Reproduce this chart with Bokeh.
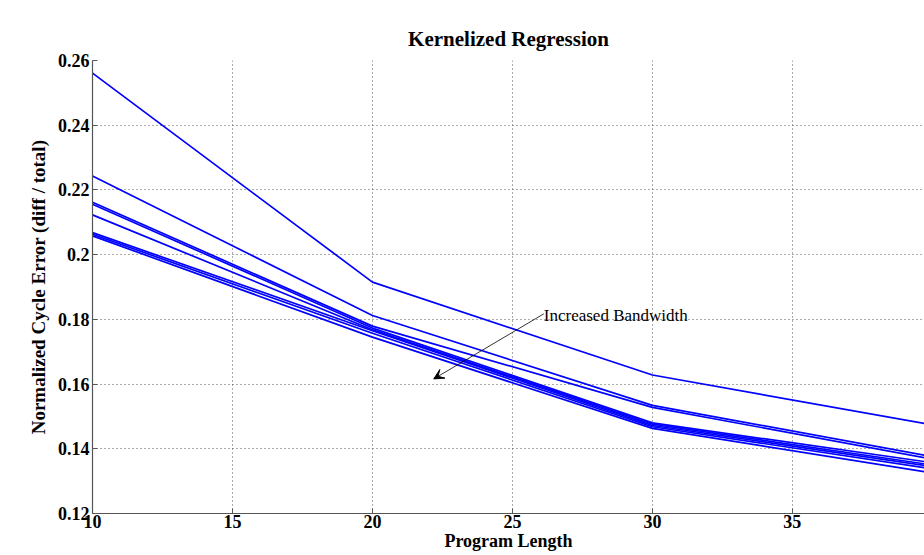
from bokeh.plotting import figure
from bokeh.models import FixedTicker, Arrow, VeeHead, Label, Range1d
from bokeh.embed import file_html
from bokeh.resources import INLINE

program_length = [10, 20, 30, 40]
bw_1 = [0.2561, 0.1915, 0.1628, 0.1474]
bw_2 = [0.2243, 0.1812, 0.1534, 0.1376]
bw_3 = [0.2162, 0.1779, 0.1528, 0.1368]
bw_4 = [0.2156, 0.1773, 0.1480, 0.1357]
bw_5 = [0.2123, 0.1768, 0.1476, 0.1350]
bw_6 = [0.2068, 0.1765, 0.1472, 0.1345]
bw_7 = [0.2063, 0.1757, 0.1468, 0.1338]
bw_8 = [0.2058, 0.1745, 0.1463, 0.1325]
series = [bw_1, bw_2, bw_3, bw_4, bw_5, bw_6, bw_7, bw_8]

x_ticks = [10, 15, 20, 25, 30, 35, 40]
y_ticks = [0.12, 0.14, 0.16, 0.18, 0.20, 0.22, 0.24, 0.26]
y_tick_labels = ["0.12", "0.14", "0.16", "0.18", "0.2", "0.22", "0.24", "0.26"]

annot_text = "Increased Bandwidth"
arrow_start = (26.12, 0.1817)
arrow_end = (22.19, 0.1616)

FONT = "Liberation Serif"

p = figure(width=924, height=555, output_backend="svg", toolbar_location=None,
           x_range=Range1d(10, 39.72), y_range=Range1d(0.12, 0.26),
           min_border_left=92, min_border_right=0, min_border_top=60, min_border_bottom=42)

p.title.text = "Kernelized Regression"
p.title.align = "center"
p.title.text_font = FONT
p.title.text_font_size = "21px"
p.title.text_font_style = "bold"
p.title.text_color = "black"
p.title.offset = 6
p.title.standoff = 20

for s in series:
    p.line(program_length, s, line_color="#0000ff", line_width=1.7)

p.outline_line_color = None
for ax in (p.xaxis[0], p.yaxis[0]):
    ax.axis_line_color = "#555555"
    ax.axis_line_width = 1.2
    ax.major_tick_in = 5
    ax.major_tick_out = 0
    ax.minor_tick_in = 0
    ax.minor_tick_out = 0
    ax.major_tick_line_color = "#555555"
    ax.major_label_text_font = FONT
    ax.major_label_text_font_style = "bold"
    ax.major_label_text_font_size = "18px"
    ax.major_label_text_color = "black"
    ax.axis_label_text_font = FONT
    ax.axis_label_text_font_style = "bold"
    ax.axis_label_text_font_size = "18px"
    ax.axis_label_text_color = "black"

p.yaxis.axis_label_text_font_size = "19px"
p.xaxis.ticker = FixedTicker(ticks=x_ticks)
p.yaxis.ticker = FixedTicker(ticks=y_ticks)
p.yaxis.major_label_overrides = {t: l for t, l in zip(y_ticks, y_tick_labels)}
p.xaxis.major_label_standoff = 1
p.yaxis.major_label_standoff = 3
p.xaxis.axis_label = "Program Length"
p.yaxis.axis_label = "Normalized Cycle Error (diff / total)"
p.xaxis.axis_label_standoff = 0
p.yaxis.axis_label_standoff = 6

p.xgrid.grid_line_color = "#555555"
p.ygrid.grid_line_color = "#555555"
p.xgrid.grid_line_dash = "1 3"
p.ygrid.grid_line_dash = "1 3"
p.xgrid.grid_line_width = 1
p.ygrid.grid_line_width = 1

p.add_layout(Arrow(end=VeeHead(size=10, fill_color="black", line_color="black", line_width=1),
                   x_start=arrow_start[0], y_start=arrow_start[1],
                   x_end=arrow_end[0], y_end=arrow_end[1],
                   line_color="black", line_width=0.8))
p.add_layout(Label(x=arrow_start[0], y=arrow_start[1], text=annot_text,
                   text_font=FONT, text_font_size="17px", text_color="black",
                   text_baseline="middle", x_offset=0, y_offset=-2))

open("out.html", "w").write(file_html(p, INLINE))
